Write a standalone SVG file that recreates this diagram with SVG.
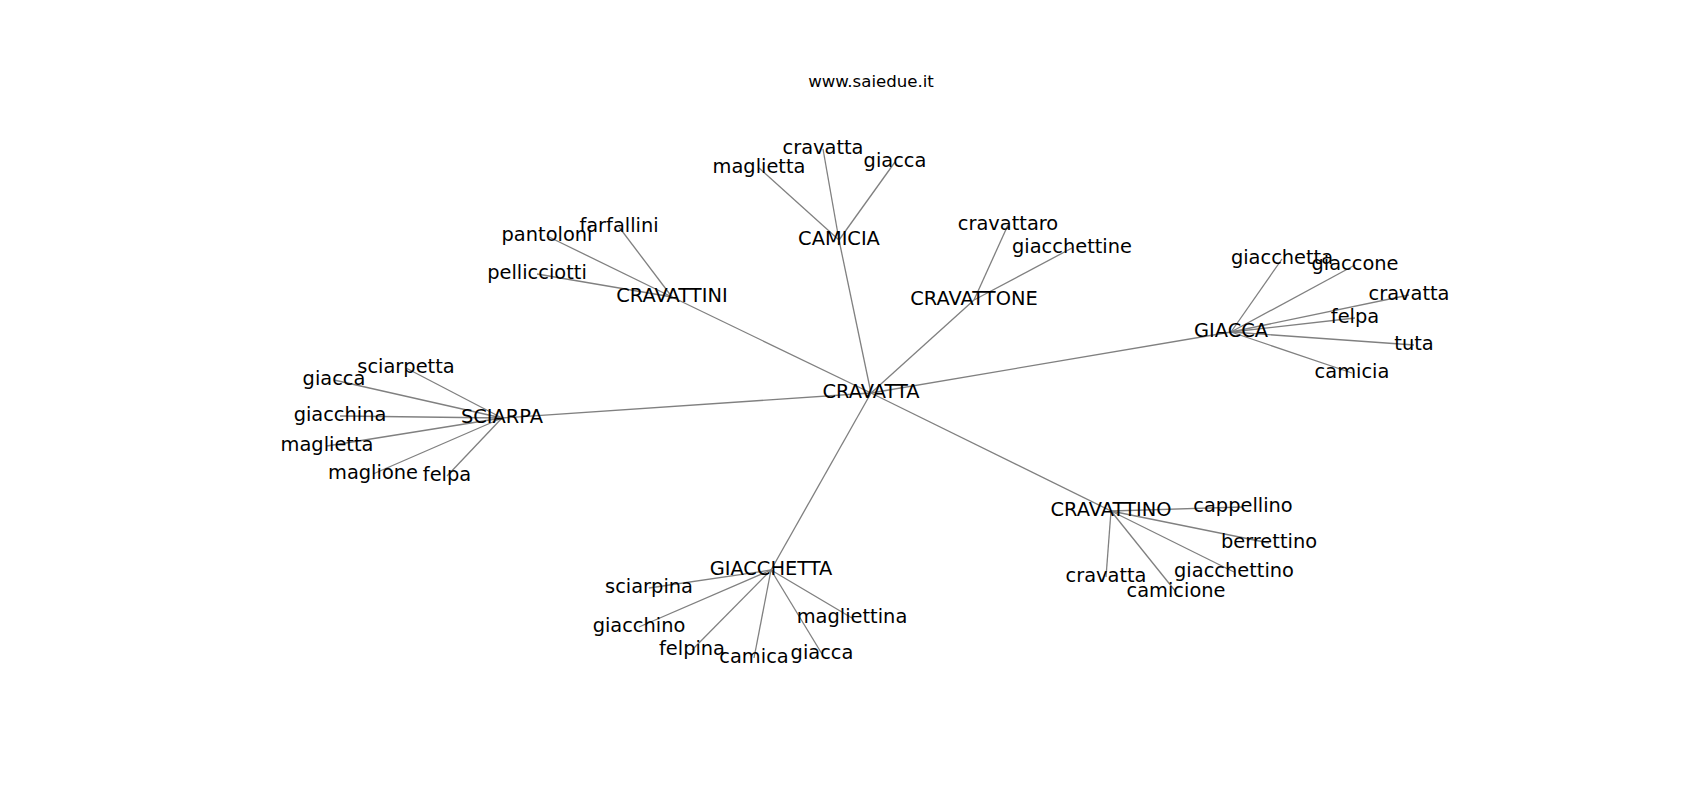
<svg xmlns="http://www.w3.org/2000/svg" width="1700" height="800" viewBox="0 0 1700 800">
<style>
.bg{fill:#ffffff}
.e{stroke:#808080;stroke-width:1.3;fill:none;stroke-linecap:butt}
.n{font-family:"DejaVu Sans","Liberation Sans",sans-serif;font-size:19.4px;fill:#000;text-anchor:middle}
.t{font-family:"DejaVu Sans","Liberation Sans",sans-serif;font-size:16.6px;fill:#000;text-anchor:middle}
</style>
<rect class="bg" x="0" y="0" width="1700" height="800"/>
<text class="t" x="871" y="87">www.saiedue.it</text>
<g id="edges">
<line class="e" x1="871" y1="393" x2="839" y2="240"/>
<line class="e" x1="871" y1="393" x2="672" y2="297"/>
<line class="e" x1="871" y1="393" x2="974" y2="300"/>
<line class="e" x1="871" y1="393" x2="1231" y2="332"/>
<line class="e" x1="871" y1="393" x2="502" y2="418"/>
<line class="e" x1="871" y1="393" x2="771" y2="570"/>
<line class="e" x1="871" y1="393" x2="1111" y2="511"/>
<line class="e" x1="839" y1="240" x2="823" y2="149"/>
<line class="e" x1="839" y1="240" x2="759" y2="168"/>
<line class="e" x1="839" y1="240" x2="895" y2="162"/>
<line class="e" x1="672" y1="297" x2="619" y2="227"/>
<line class="e" x1="672" y1="297" x2="547" y2="236"/>
<line class="e" x1="672" y1="297" x2="537" y2="274"/>
<line class="e" x1="974" y1="300" x2="1008" y2="225"/>
<line class="e" x1="974" y1="300" x2="1072" y2="248"/>
<line class="e" x1="1231" y1="332" x2="1282" y2="259"/>
<line class="e" x1="1231" y1="332" x2="1355" y2="265"/>
<line class="e" x1="1231" y1="332" x2="1409" y2="295"/>
<line class="e" x1="1231" y1="332" x2="1355" y2="318"/>
<line class="e" x1="1231" y1="332" x2="1414" y2="345"/>
<line class="e" x1="1231" y1="332" x2="1352" y2="373"/>
<line class="e" x1="502" y1="418" x2="406" y2="368"/>
<line class="e" x1="502" y1="418" x2="334" y2="380"/>
<line class="e" x1="502" y1="418" x2="340" y2="416"/>
<line class="e" x1="502" y1="418" x2="327" y2="446"/>
<line class="e" x1="502" y1="418" x2="373" y2="474"/>
<line class="e" x1="502" y1="418" x2="447" y2="476"/>
<line class="e" x1="771" y1="570" x2="649" y2="588"/>
<line class="e" x1="771" y1="570" x2="639" y2="627"/>
<line class="e" x1="771" y1="570" x2="692" y2="650"/>
<line class="e" x1="771" y1="570" x2="754" y2="658"/>
<line class="e" x1="771" y1="570" x2="822" y2="654"/>
<line class="e" x1="771" y1="570" x2="852" y2="618"/>
<line class="e" x1="1111" y1="511" x2="1243" y2="507"/>
<line class="e" x1="1111" y1="511" x2="1269" y2="543"/>
<line class="e" x1="1111" y1="511" x2="1234" y2="572"/>
<line class="e" x1="1111" y1="511" x2="1106" y2="577"/>
<line class="e" x1="1111" y1="511" x2="1176" y2="592"/>
</g>
<g id="n-cravatta-hub"><text class="n" x="871" y="398">CRAVATTA</text></g>
<g id="n-camicia-hub"><text class="n" x="839" y="245">CAMICIA</text></g>
<g id="n-cravattini"><text class="n" x="672" y="302">CRAVATTINI</text></g>
<g id="n-cravattone"><text class="n" x="974" y="305">CRAVATTONE</text></g>
<g id="n-giacca-hub"><text class="n" x="1231" y="337">GIACCA</text></g>
<g id="n-sciarpa"><text class="n" x="502" y="423">SCIARPA</text></g>
<g id="n-giacchetta-hub"><text class="n" x="771" y="575">GIACCHETTA</text></g>
<g id="n-cravattino"><text class="n" x="1111" y="516">CRAVATTINO</text></g>
<g id="n-camicia-cravatta"><text class="n" x="823" y="154">cravatta</text></g>
<g id="n-camicia-maglietta"><text class="n" x="759" y="173">maglietta</text></g>
<g id="n-camicia-giacca"><text class="n" x="895" y="167">giacca</text></g>
<g id="n-farfallini"><text class="n" x="619" y="232">farfallini</text></g>
<g id="n-pantoloni"><text class="n" x="547" y="241">pantoloni</text></g>
<g id="n-pellicciotti"><text class="n" x="537" y="279">pellicciotti</text></g>
<g id="n-cravattaro"><text class="n" x="1008" y="230">cravattaro</text></g>
<g id="n-giacchettine"><text class="n" x="1072" y="253">giacchettine</text></g>
<g id="n-giacca-giacchetta"><text class="n" x="1282" y="264">giacchetta</text></g>
<g id="n-giaccone"><text class="n" x="1355" y="270">giaccone</text></g>
<g id="n-giacca-cravatta"><text class="n" x="1409" y="300">cravatta</text></g>
<g id="n-giacca-felpa"><text class="n" x="1355" y="323">felpa</text></g>
<g id="n-tuta"><text class="n" x="1414" y="350">tuta</text></g>
<g id="n-giacca-camicia"><text class="n" x="1352" y="378">camicia</text></g>
<g id="n-sciarpetta"><text class="n" x="406" y="373">sciarpetta</text></g>
<g id="n-sciarpa-giacca"><text class="n" x="334" y="385">giacca</text></g>
<g id="n-giacchina"><text class="n" x="340" y="421">giacchina</text></g>
<g id="n-sciarpa-maglietta"><text class="n" x="327" y="451">maglietta</text></g>
<g id="n-maglione"><text class="n" x="373" y="479">maglione</text></g>
<g id="n-sciarpa-felpa"><text class="n" x="447" y="481">felpa</text></g>
<g id="n-sciarpina"><text class="n" x="649" y="593">sciarpina</text></g>
<g id="n-giacchino"><text class="n" x="639" y="632">giacchino</text></g>
<g id="n-felpina"><text class="n" x="692" y="655">felpina</text></g>
<g id="n-camica"><text class="n" x="754" y="663">camica</text></g>
<g id="n-giacchetta-giacca"><text class="n" x="822" y="659">giacca</text></g>
<g id="n-magliettina"><text class="n" x="852" y="623">magliettina</text></g>
<g id="n-cappellino"><text class="n" x="1243" y="512">cappellino</text></g>
<g id="n-berrettino"><text class="n" x="1269" y="548">berrettino</text></g>
<g id="n-giacchettino"><text class="n" x="1234" y="577">giacchettino</text></g>
<g id="n-cravattino-cravatta"><text class="n" x="1106" y="582">cravatta</text></g>
<g id="n-camicione"><text class="n" x="1176" y="597">camicione</text></g>
</svg>
